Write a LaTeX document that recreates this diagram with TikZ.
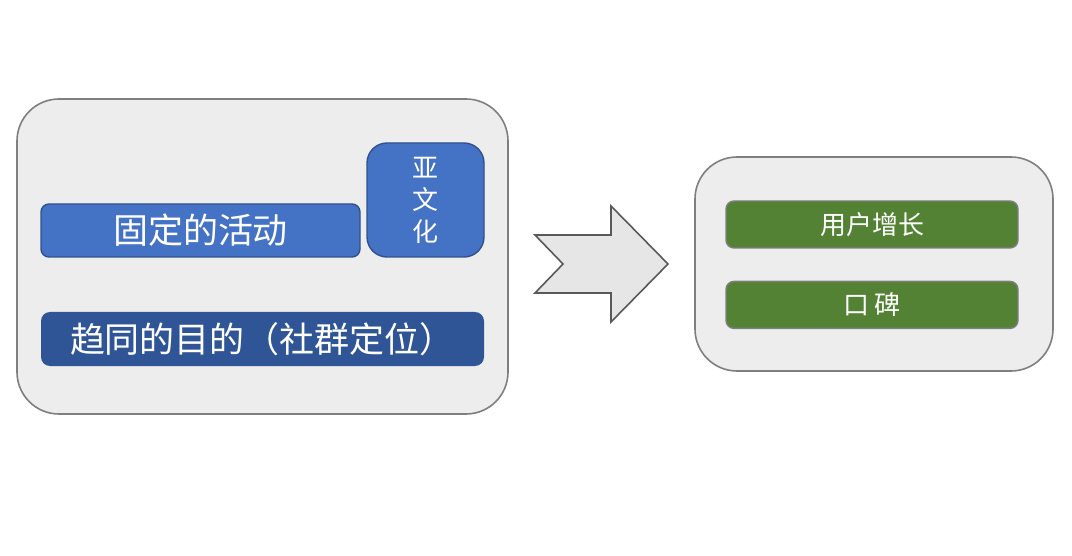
\documentclass[tikz,border=0pt]{standalone}
\usepackage{fontspec}
\newfontfamily\cjk{Noto Sans CJK SC}
\usepackage{tikz}
\usetikzlibrary{positioning}

\definecolor{panelgray}{HTML}{EDEDED}
\definecolor{panelline}{HTML}{7F7F7F}
\definecolor{boxblue}{HTML}{4472C4}
\definecolor{blueline}{HTML}{2F528F}
\definecolor{darkblue}{HTML}{2F5597}
\definecolor{boxgreen}{HTML}{548235}
\definecolor{arrowfill}{HTML}{E7E6E6}
\definecolor{arrowline}{HTML}{595959}

\begin{document}
\begin{tikzpicture}[x=1pt, y=-1pt,
panel/.style={rectangle, rounded corners=42pt, draw=panelline, fill=panelgray, line width=1.6pt},
bluebox/.style={rectangle, rounded corners=8pt, draw=blueline, fill=boxblue, line width=1.4pt, text=white, font=\cjk\fontsize{35}{40}\selectfont},
tallbox/.style={rectangle, rounded corners=20pt, draw=blueline, fill=boxblue, line width=1.4pt, text=white, align=center, font=\cjk\fontsize{26}{32}\selectfont},
goalbox/.style={rectangle, rounded corners=9pt, fill=darkblue, text=white, font=\cjk\fontsize{35}{40}\selectfont},
greenbox/.style={rectangle, rounded corners=8pt, draw=panelline, fill=boxgreen, line width=1.4pt, text=white, font=\cjk\fontsize{26}{30}\selectfont},
]
\useasboundingbox (0,0) rectangle (1072,556);

\node[panel, minimum width=491pt, minimum height=315pt] (left) at (262.5,256.5) {};
\node[panel, minimum width=358pt, minimum height=214pt] (right) at (874,264) {};

\node[bluebox, minimum width=319pt, minimum height=53pt] (activity) at (200.5,230.5) {固定的活动};
\node[tallbox, minimum width=117pt, minimum height=114pt] (subculture) at (425.5,200) {亚\\文\\化};
\node[goalbox, minimum width=443pt, minimum height=54pt] (goal) at (262.5,339) {趋同的目的（社群定位）};

\node[greenbox, minimum width=292pt, minimum height=47pt] (growth) at (872,224.5) {用户增长};
\node[greenbox, minimum width=292pt, minimum height=47pt] (praise) [below=32pt of growth] {口 碑};

% notched arrow between the panels
\draw[draw=arrowline, fill=arrowfill, line width=1.6pt, line join=miter]
  (535,235) -- (611,235) -- (611,206) -- (668,264) -- (611,322) -- (611,293)
  -- (535,293) -- (563,264) -- cycle;
\end{tikzpicture}
\end{document}
